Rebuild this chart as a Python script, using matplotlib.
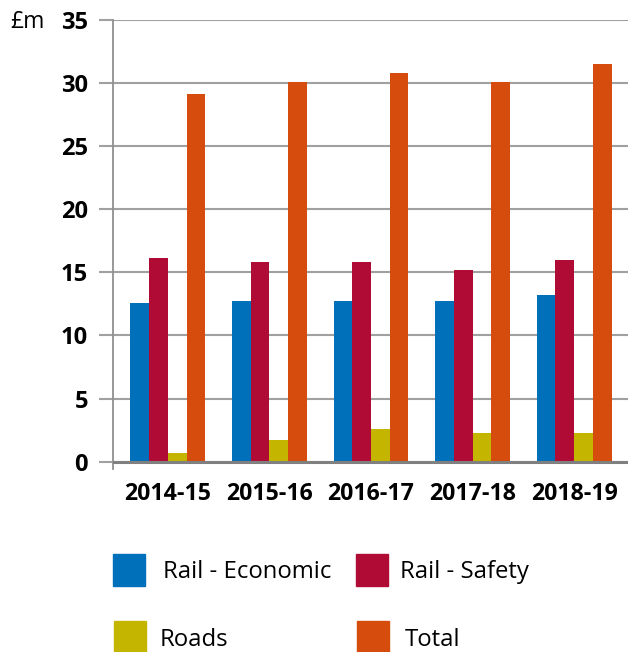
import numpy as np
import matplotlib
matplotlib.use("Agg")
from matplotlib import pyplot as plt
from matplotlib.patches import Rectangle

# Data (£m)
years = ["2014-15", "2015-16", "2016-17", "2017-18", "2018-19"]
rail_economic = [12.6, 12.7, 12.7, 12.7, 13.2]
rail_safety = [16.15, 15.85, 15.85, 15.2, 16.0]
roads = [0.65, 1.7, 2.6, 2.3, 2.3]
total = [29.15, 30.1, 30.8, 30.1, 31.5]

series_names = ["Rail - Economic", "Rail - Safety", "Roads", "Total"]
series_values = [rail_economic, rail_safety, roads, total]
colours = ["#0070BA", "#B00B35", "#C4B500", "#D54C0D"]

plt.rcParams["font.family"] = ["Open Sans", "DejaVu Sans"]

fig = plt.figure(figsize=(6.28, 6.52), dpi=100)
ax = fig.add_axes([113 / 628, 1 - 469 / 652, 1 - 113 / 628, (469 - 20) / 652])

x = np.arange(len(years))
width = 0.184
for i, (vals, col) in enumerate(zip(series_values, colours)):
	ax.bar(x + (i - 1.5) * width, vals, width=width, color=col, zorder=3)

# Axis styling
ax.set_ylim(-0.58, 35)
ax.set_xlim(-0.54, 4.53)
ax.set_yticks(range(0, 36, 5))
ax.set_xticks(x)
ax.set_xticklabels(years, fontsize=16.7, fontweight="bold")
ax.tick_params(axis="y", length=10, width=1.5, color="#a0a0a0", pad=8, labelsize=17)
ax.tick_params(axis="x", length=0, pad=9.5)
for lab in ax.get_yticklabels():
	lab.set_fontweight("bold")

ax.grid(axis="y", color="#a0a0a0", linewidth=1.5, zorder=0)
ax.axhline(0, color="#808080", linewidth=2.2, zorder=4)
for side in ["top", "right", "bottom"]:
	ax.spines[side].set_visible(False)
ax.spines["left"].set_color("#909090")
ax.spines["left"].set_linewidth(1.3)

fig.text(10 / 628, 1 - 28 / 652, "£m", fontsize=16.5, va="baseline", ha="left")

# Legend drawn by hand: (square x, square top y, text x, text baseline y)
legend_pos = [(113, 554, 163, 578), (356, 554, 400, 578), (114, 621, 160, 646), (357, 621, 405, 646)]
for (sx, sy, tx, ty), name, col in zip(legend_pos, series_names, colours):
	fig.patches.append(Rectangle((sx / 628, 1 - (sy + 32) / 652), 32 / 628, 32 / 652,
		transform=fig.transFigure, color=col, figure=fig))
	fig.text(tx / 628, 1 - ty / 652, name, fontsize=17.2, va="baseline", ha="left")

plt.savefig("out.png", dpi=100)
